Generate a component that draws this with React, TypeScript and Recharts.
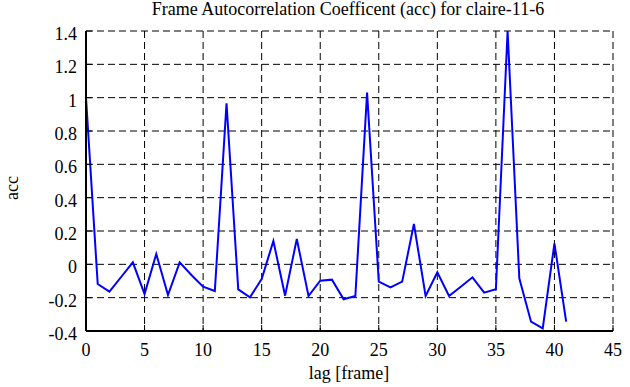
import React from 'react';
import { LineChart, Line, XAxis, YAxis, CartesianGrid } from 'recharts';

const lags = [0,1,2,3,4,5,6,7,8,9,10,11,12,13,14,15,16,17,18,19,20,21,22,23,24,25,26,27,28,29,30,31,32,33,34,35,36,37,38,39,40,41];
const accValues = [1.0,-0.118,-0.164,-0.076,0.012,-0.178,0.062,-0.184,0.012,-0.064,-0.134,-0.16,0.966,-0.15,-0.198,-0.088,0.14,-0.188,0.152,-0.19,-0.098,-0.092,-0.21,-0.19,1.03,-0.104,-0.138,-0.104,0.242,-0.19,-0.048,-0.19,-0.134,-0.078,-0.17,-0.15,1.4,-0.084,-0.344,-0.384,0.126,-0.344];
const xTicks = [0,5,10,15,20,25,30,35,40,45];
const yTicks = [-0.4,-0.2,0,0.2,0.4,0.6,0.8,1.0,1.2,1.4];

const data = lags.map((lag, i) => ({ lag, acc: accValues[i] }));

const FONT = '"Liberation Serif", "DejaVu Serif", serif';
const textStyle = { fontFamily: FONT, fontSize: 18, fill: '#000' };

const fmtY = (v: number) => String(Math.round(v * 10) / 10);

const renderXTick = (props: any) => {
  const { x, payload } = props;
  return (
    <text key={`xt-${payload.value}`} x={x} y={356} textAnchor="middle" style={textStyle}>
      {String(payload.value)}
    </text>
  );
};

const renderYTick = (props: any) => {
  const { y, payload } = props;
  return (
    <text key={`yt-${payload.value}`} x={77} y={y + 9} textAnchor="end" style={textStyle}>
      {fmtY(payload.value)}
    </text>
  );
};

export default function App() {
  return (
    <div style={{ position: 'absolute', left: 0, top: 0, width: 630, height: 387, background: '#fff', fontFamily: FONT }}>
      <LineChart
        width={630}
        height={387}
        data={data}
        margin={{ top: 31, right: 17, left: 0, bottom: 0 }}
        style={{ fontFamily: FONT }}
      >
        <CartesianGrid stroke="#000" strokeWidth={1} strokeDasharray="7 4" />
        <XAxis
          dataKey="lag"
          type="number"
          domain={[0, 45]}
          ticks={xTicks}
          height={56}
          tickSize={-6}
          tickMargin={18}
          tick={renderXTick}
          tickLine={{ stroke: '#000', strokeWidth: 1 }}
          axisLine={{ stroke: '#000', strokeWidth: 2 }}
          interval={0}
        />
        <XAxis
          xAxisId="top"
          orientation="top"
          dataKey="lag"
          type="number"
          domain={[0, 45]}
          ticks={xTicks}
          height={0}
          tickSize={-6}
          tick={false}
          tickLine={{ stroke: '#000', strokeWidth: 1 }}
          axisLine={{ stroke: '#000', strokeWidth: 2 }}
          interval={0}
        />
        <YAxis
          type="number"
          domain={[-0.4, 1.4]}
          ticks={yTicks}
          width={86}
          tickSize={-6}
          tickMargin={16}
          tick={renderYTick}
          tickLine={{ stroke: '#000', strokeWidth: 1 }}
          axisLine={{ stroke: '#000', strokeWidth: 2 }}
          interval={0}
          allowDataOverflow
        />
        <YAxis
          yAxisId="right"
          orientation="right"
          type="number"
          domain={[-0.4, 1.4]}
          ticks={yTicks}
          width={0}
          tickSize={-6}
          tick={false}
          tickLine={{ stroke: '#000', strokeWidth: 1 }}
          axisLine={{ stroke: '#000', strokeWidth: 2 }}
          interval={0}
        />
        <Line
          type="linear"
          dataKey="acc"
          stroke="#0000ff"
          strokeWidth={2}
          dot={false}
          isAnimationActive={false}
        />
      </LineChart>
      <svg width={630} height={387} style={{ position: 'absolute', left: 0, top: 0, pointerEvents: 'none' }}>
        <text x={348} y={15} textAnchor="middle" style={textStyle}>
          Frame Autocorrelation Coefficent (acc) for claire-11-6
        </text>
        <text x={349} y={379} textAnchor="middle" style={textStyle}>
          lag [frame]
        </text>
        <text x={18} y={188} textAnchor="middle" style={textStyle} transform="rotate(-90 18 188)">
          acc
        </text>
      </svg>
    </div>
  );
}
